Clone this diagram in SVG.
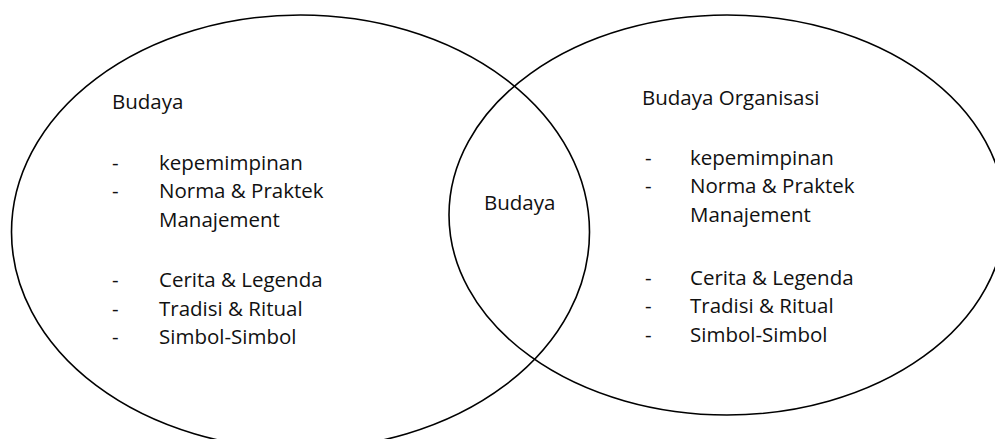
<svg xmlns="http://www.w3.org/2000/svg" width="995" height="439" viewBox="0 0 995 439">
<style>
.ring{fill:none;stroke:#000;stroke-width:1.6}
.t{font-family:"Open Sans","Liberation Sans",sans-serif;font-size:20.5px;fill:#111}
</style>
<rect width="995" height="439" fill="#fff"/>
<g id="left-set">
<ellipse class="ring" cx="300.5" cy="232" rx="289" ry="217"/>
<text class="t" x="112" y="109">Budaya</text>
<text class="t" x="112" y="170">-</text><text class="t" x="159" y="170">kepemimpinan</text>
<text class="t" x="112" y="198">-</text><text class="t" x="159" y="198">Norma &amp; Praktek</text>
<text class="t" x="159" y="227">Manajement</text>
<text class="t" x="112" y="287">-</text><text class="t" x="159" y="287">Cerita &amp; Legenda</text>
<text class="t" x="112" y="316">-</text><text class="t" x="159" y="316">Tradisi &amp; Ritual</text>
<text class="t" x="112" y="344">-</text><text class="t" x="159" y="344">Simbol-Simbol</text>
</g>
<g id="right-set">
<ellipse class="ring" cx="727" cy="215" rx="278" ry="200"/>
<text class="t" x="642" y="105">Budaya Organisasi</text>
<text class="t" x="645" y="165">-</text><text class="t" x="690" y="165">kepemimpinan</text>
<text class="t" x="645" y="193">-</text><text class="t" x="690" y="193">Norma &amp; Praktek</text>
<text class="t" x="690" y="222">Manajement</text>
<text class="t" x="645" y="285">-</text><text class="t" x="690" y="285">Cerita &amp; Legenda</text>
<text class="t" x="645" y="313">-</text><text class="t" x="690" y="313">Tradisi &amp; Ritual</text>
<text class="t" x="645" y="342">-</text><text class="t" x="690" y="342">Simbol-Simbol</text>
</g>
<g id="intersection">
<text class="t" x="484" y="210">Budaya</text>
</g>
<g id="connectors"/>
</svg>
